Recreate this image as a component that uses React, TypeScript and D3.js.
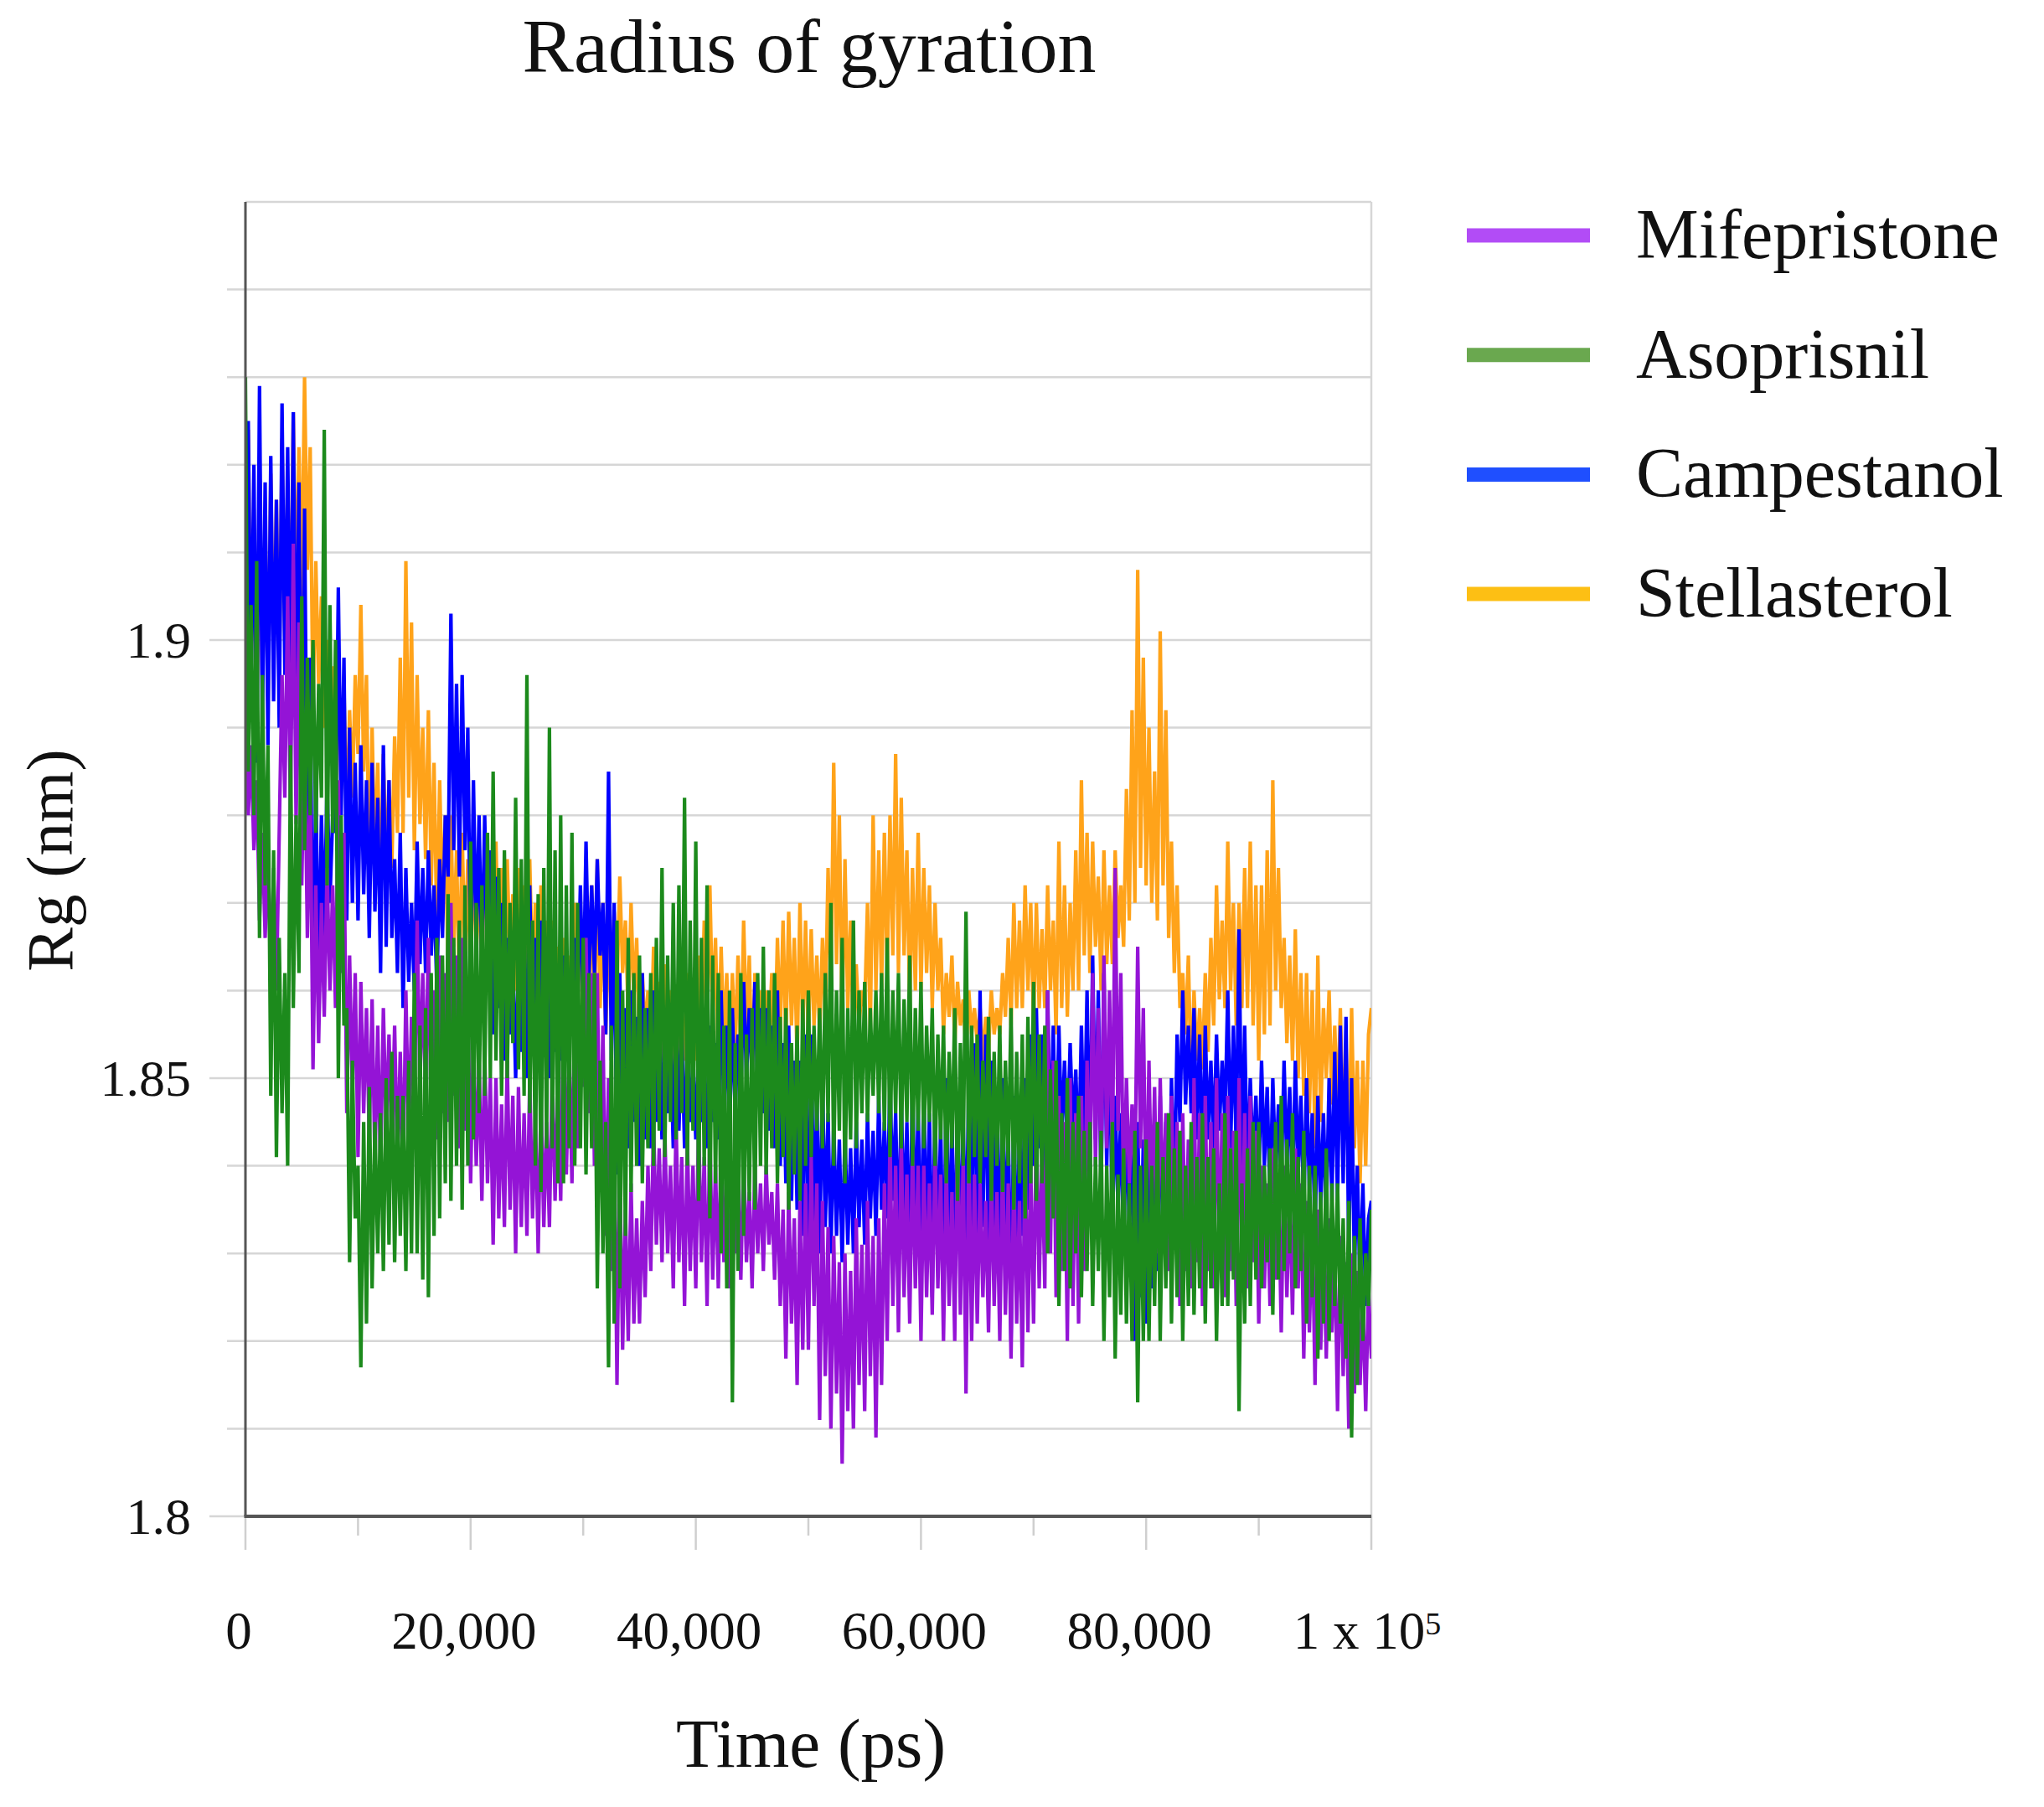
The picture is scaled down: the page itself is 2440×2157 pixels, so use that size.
import React from 'react';
import * as d3 from 'd3';

const W = 2440;
const H = 2157;
const PLOT = { left: 293, right: 1637, top: 241, bottom: 1810 };
const FONT = "'Liberation Serif', 'Times New Roman', serif";

const TITLE = 'Radius of gyration';
const X_TITLE = 'Time (ps)';
const Y_TITLE = 'Rg (nm)';

// sampled every 250 ps, 0 .. 100000 ps
const timePs = d3.range(0, 100001, 250);

const mifepristone = [
  1.892, 1.880, 1.888, 1.876, 1.884, 1.868, 1.878, 1.866, 1.876, 1.861, 1.874, 1.860, 1.878, 1.896, 1.882, 1.905, 1.880, 1.911, 1.879, 1.902,
  1.872, 1.890, 1.866, 1.884, 1.851, 1.872, 1.854, 1.870, 1.857, 1.874, 1.860, 1.872, 1.858, 1.884, 1.862, 1.878, 1.846, 1.864, 1.848, 1.862,
  1.841, 1.861, 1.846, 1.858, 1.843, 1.859, 1.840, 1.856, 1.839, 1.858, 1.844, 1.855, 1.842, 1.856, 1.840, 1.853, 1.838, 1.860, 1.843, 1.857,
  1.846, 1.868, 1.849, 1.862, 1.848, 1.866, 1.845, 1.860, 1.843, 1.864, 1.846, 1.862, 1.845, 1.870, 1.848, 1.864, 1.842, 1.866, 1.844, 1.860,
  1.838, 1.855, 1.840, 1.852, 1.836, 1.853, 1.838, 1.850, 1.831, 1.850, 1.834, 1.847, 1.833, 1.852, 1.835, 1.848, 1.830, 1.849, 1.833, 1.846,
  1.832, 1.850, 1.834, 1.846, 1.830, 1.848, 1.833, 1.845, 1.833, 1.851, 1.836, 1.849, 1.836, 1.857, 1.839, 1.853, 1.838, 1.858, 1.842, 1.856,
  1.849, 1.866, 1.846, 1.862, 1.840, 1.862, 1.837, 1.856, 1.832, 1.850, 1.828, 1.846, 1.815, 1.840, 1.819, 1.835, 1.820, 1.838, 1.822, 1.834,
  1.822, 1.836, 1.825, 1.840, 1.828, 1.845, 1.831, 1.842, 1.829, 1.844, 1.830, 1.840, 1.826, 1.845, 1.829, 1.841, 1.824, 1.843, 1.828, 1.840,
  1.826, 1.845, 1.829, 1.841, 1.824, 1.844, 1.827, 1.840, 1.826, 1.843, 1.829, 1.839, 1.826, 1.840, 1.830, 1.838, 1.827, 1.841, 1.829, 1.837,
  1.826, 1.840, 1.830, 1.838, 1.828, 1.840, 1.831, 1.837, 1.827, 1.838, 1.824, 1.835, 1.818, 1.837, 1.822, 1.834, 1.815, 1.836, 1.819, 1.838,
  1.819, 1.841, 1.824, 1.838, 1.811, 1.836, 1.816, 1.833, 1.810, 1.832, 1.814, 1.829, 1.806, 1.830, 1.812, 1.828, 1.810, 1.834, 1.815, 1.831,
  1.812, 1.836, 1.816, 1.832, 1.809, 1.834, 1.815, 1.838, 1.820, 1.843, 1.824, 1.840, 1.821, 1.843, 1.825, 1.839, 1.822, 1.842, 1.826, 1.840,
  1.820, 1.840, 1.825, 1.838, 1.823, 1.842, 1.826, 1.839, 1.820, 1.840, 1.824, 1.837, 1.820, 1.845, 1.823, 1.841, 1.814, 1.843, 1.820, 1.839,
  1.822, 1.838, 1.825, 1.836, 1.821, 1.840, 1.824, 1.837, 1.820, 1.841, 1.823, 1.838, 1.818, 1.840, 1.822, 1.836, 1.817, 1.843, 1.821, 1.840,
  1.822, 1.845, 1.826, 1.842, 1.826, 1.860, 1.830, 1.852, 1.825, 1.848, 1.828, 1.845, 1.820, 1.850, 1.824, 1.846, 1.822, 1.848, 1.828, 1.852,
  1.837, 1.862, 1.840, 1.858, 1.838, 1.864, 1.842, 1.860, 1.840, 1.874, 1.844, 1.862, 1.835, 1.850, 1.838, 1.847, 1.838, 1.865, 1.842, 1.858,
  1.832, 1.852, 1.835, 1.849, 1.830, 1.850, 1.834, 1.846, 1.828, 1.848, 1.831, 1.845, 1.824, 1.846, 1.828, 1.843, 1.826, 1.850, 1.829, 1.846,
  1.824, 1.848, 1.828, 1.845, 1.826, 1.850, 1.829, 1.846, 1.825, 1.848, 1.828, 1.844, 1.824, 1.850, 1.827, 1.846, 1.826, 1.848, 1.829, 1.844,
  1.822, 1.840, 1.826, 1.838, 1.824, 1.842, 1.827, 1.839, 1.821, 1.840, 1.825, 1.837, 1.823, 1.842, 1.826, 1.838, 1.818, 1.836, 1.821, 1.834,
  1.815, 1.835, 1.819, 1.832, 1.818, 1.834, 1.821, 1.831, 1.812, 1.832, 1.816, 1.829, 1.810, 1.830, 1.814, 1.828, 1.815, 1.825, 1.812, 1.826,
  1.818,
];

const asoprisnil = [
  1.930, 1.885, 1.904, 1.880, 1.909, 1.866, 1.896, 1.872, 1.888, 1.848, 1.876, 1.841, 1.866, 1.846, 1.862, 1.840, 1.888, 1.858, 1.880, 1.862,
  1.905, 1.876, 1.898, 1.880, 1.900, 1.878, 1.895, 1.882, 1.924, 1.872, 1.904, 1.878, 1.900, 1.850, 1.880, 1.856, 1.858, 1.829, 1.852, 1.834,
  1.840, 1.817, 1.845, 1.822, 1.849, 1.826, 1.845, 1.830, 1.846, 1.828, 1.850, 1.831, 1.853, 1.829, 1.848, 1.832, 1.848, 1.828, 1.852, 1.830,
  1.862, 1.830, 1.856, 1.827, 1.858, 1.825, 1.862, 1.832, 1.866, 1.834, 1.864, 1.838, 1.871, 1.836, 1.866, 1.840, 1.868, 1.835, 1.872, 1.840,
  1.877, 1.843, 1.870, 1.846, 1.872, 1.848, 1.878, 1.850, 1.885, 1.852, 1.874, 1.848, 1.876, 1.850, 1.870, 1.854, 1.882, 1.851, 1.875, 1.848,
  1.896, 1.846, 1.868, 1.840, 1.871, 1.837, 1.874, 1.842, 1.890, 1.842, 1.876, 1.838, 1.880, 1.838, 1.872, 1.842, 1.878, 1.840, 1.870, 1.842,
  1.866, 1.839, 1.862, 1.842, 1.862, 1.826, 1.852, 1.830, 1.845, 1.817, 1.856, 1.822, 1.868, 1.826, 1.860, 1.832, 1.866, 1.837, 1.862, 1.840,
  1.864, 1.838, 1.858, 1.842, 1.862, 1.840, 1.866, 1.844, 1.874, 1.841, 1.864, 1.845, 1.870, 1.843, 1.872, 1.846, 1.882, 1.840, 1.868, 1.844,
  1.877, 1.836, 1.866, 1.840, 1.872, 1.834, 1.864, 1.838, 1.862, 1.830, 1.856, 1.826, 1.860, 1.813, 1.854, 1.828, 1.862, 1.832, 1.855, 1.836,
  1.858, 1.835, 1.862, 1.840, 1.865, 1.839, 1.860, 1.842, 1.862, 1.838, 1.857, 1.841, 1.858, 1.835, 1.854, 1.839, 1.856, 1.836, 1.859, 1.840,
  1.860, 1.841, 1.856, 1.844, 1.858, 1.842, 1.862, 1.845, 1.870, 1.840, 1.860, 1.844, 1.866, 1.838, 1.858, 1.843, 1.868, 1.842, 1.860, 1.846,
  1.861, 1.845, 1.858, 1.848, 1.860, 1.846, 1.862, 1.844, 1.866, 1.841, 1.860, 1.846, 1.862, 1.842, 1.859, 1.845, 1.864, 1.840, 1.858, 1.844,
  1.861, 1.842, 1.856, 1.845, 1.858, 1.840, 1.855, 1.843, 1.856, 1.838, 1.853, 1.842, 1.858, 1.836, 1.854, 1.840, 1.869, 1.838, 1.856, 1.841,
  1.855, 1.838, 1.852, 1.841, 1.857, 1.836, 1.853, 1.840, 1.856, 1.837, 1.852, 1.840, 1.858, 1.835, 1.853, 1.838, 1.855, 1.834, 1.857, 1.838,
  1.861, 1.836, 1.855, 1.838, 1.856, 1.830, 1.851, 1.834, 1.852, 1.824, 1.846, 1.828, 1.850, 1.826, 1.845, 1.830, 1.848, 1.825, 1.844, 1.828,
  1.845, 1.824, 1.841, 1.828, 1.844, 1.820, 1.840, 1.825, 1.845, 1.818, 1.839, 1.823, 1.842, 1.822, 1.838, 1.820, 1.844, 1.813, 1.840, 1.820,
  1.843, 1.820, 1.840, 1.824, 1.845, 1.820, 1.841, 1.826, 1.846, 1.822, 1.842, 1.825, 1.844, 1.820, 1.840, 1.824, 1.845, 1.823, 1.841, 1.826,
  1.846, 1.822, 1.841, 1.826, 1.842, 1.820, 1.838, 1.824, 1.846, 1.824, 1.842, 1.827, 1.844, 1.812, 1.838, 1.822, 1.842, 1.824, 1.845, 1.827,
  1.845, 1.826, 1.840, 1.829, 1.842, 1.823, 1.845, 1.827, 1.848, 1.828, 1.843, 1.830, 1.846, 1.826, 1.841, 1.828, 1.844, 1.822, 1.840, 1.825,
  1.840, 1.818, 1.837, 1.822, 1.842, 1.820, 1.838, 1.824, 1.838, 1.822, 1.834, 1.818, 1.836, 1.809, 1.832, 1.815, 1.834, 1.820, 1.830, 1.824,
  1.835,
];

const campestanol = [
  1.905, 1.925, 1.894, 1.920, 1.886, 1.929, 1.890, 1.918, 1.888, 1.921, 1.893, 1.916, 1.890, 1.927, 1.896, 1.922, 1.893, 1.926, 1.890, 1.918,
  1.882, 1.915, 1.876, 1.898, 1.856, 1.884, 1.860, 1.880, 1.866, 1.884, 1.870, 1.880, 1.878, 1.906, 1.880, 1.898, 1.868, 1.890, 1.870, 1.886,
  1.868, 1.888, 1.871, 1.884, 1.866, 1.886, 1.869, 1.882, 1.862, 1.888, 1.865, 1.884, 1.866, 1.875, 1.862, 1.878, 1.858, 1.874, 1.861, 1.870,
  1.860, 1.877, 1.863, 1.874, 1.862, 1.876, 1.864, 1.872, 1.860, 1.875, 1.866, 1.880, 1.873, 1.903, 1.876, 1.895, 1.873, 1.896, 1.876, 1.890,
  1.862, 1.884, 1.865, 1.880, 1.862, 1.880, 1.864, 1.876, 1.855, 1.873, 1.858, 1.870, 1.852, 1.866, 1.855, 1.863, 1.850, 1.864, 1.853, 1.868,
  1.850, 1.872, 1.853, 1.866, 1.851, 1.868, 1.854, 1.864, 1.850, 1.862, 1.853, 1.860, 1.852, 1.864, 1.855, 1.862, 1.855, 1.866, 1.858, 1.872,
  1.858, 1.877, 1.861, 1.872, 1.862, 1.875, 1.864, 1.870, 1.855, 1.885, 1.852, 1.870, 1.839, 1.862, 1.842, 1.858, 1.842, 1.860, 1.845, 1.857,
  1.840, 1.862, 1.843, 1.858, 1.842, 1.860, 1.845, 1.856, 1.843, 1.858, 1.846, 1.855, 1.842, 1.860, 1.844, 1.856, 1.842, 1.854, 1.845, 1.852,
  1.843, 1.854, 1.845, 1.852, 1.842, 1.856, 1.845, 1.854, 1.843, 1.860, 1.846, 1.856, 1.843, 1.858, 1.846, 1.855, 1.848, 1.861, 1.850, 1.858,
  1.850, 1.861, 1.848, 1.858, 1.846, 1.858, 1.844, 1.856, 1.842, 1.860, 1.840, 1.854, 1.838, 1.856, 1.836, 1.852, 1.835, 1.852, 1.832, 1.855,
  1.828, 1.855, 1.832, 1.848, 1.830, 1.850, 1.833, 1.846, 1.830, 1.845, 1.832, 1.843, 1.829, 1.844, 1.831, 1.842, 1.830, 1.845, 1.833, 1.843,
  1.831, 1.846, 1.834, 1.844, 1.832, 1.848, 1.835, 1.845, 1.834, 1.850, 1.836, 1.846, 1.830, 1.848, 1.833, 1.845, 1.828, 1.850, 1.831, 1.847,
  1.826, 1.850, 1.829, 1.846, 1.825, 1.848, 1.828, 1.845, 1.824, 1.850, 1.827, 1.846, 1.826, 1.848, 1.829, 1.845, 1.830, 1.850, 1.833, 1.854,
  1.830, 1.860, 1.833, 1.855, 1.828, 1.852, 1.831, 1.849, 1.825, 1.850, 1.828, 1.846, 1.820, 1.848, 1.826, 1.845, 1.832, 1.850, 1.835, 1.855,
  1.840, 1.858, 1.842, 1.855, 1.838, 1.860, 1.841, 1.856, 1.840, 1.856, 1.843, 1.852, 1.842, 1.854, 1.844, 1.851, 1.840, 1.856, 1.842, 1.860,
  1.840, 1.864, 1.843, 1.860, 1.837, 1.862, 1.840, 1.855, 1.832, 1.848, 1.835, 1.846, 1.830, 1.846, 1.833, 1.844, 1.820, 1.845, 1.825, 1.843,
  1.822, 1.846, 1.826, 1.844, 1.828, 1.848, 1.831, 1.845, 1.830, 1.850, 1.836, 1.855, 1.845, 1.860, 1.847, 1.856, 1.846, 1.858, 1.843, 1.855,
  1.840, 1.856, 1.843, 1.852, 1.842, 1.855, 1.844, 1.852, 1.845, 1.860, 1.842, 1.856, 1.842, 1.867, 1.840, 1.856, 1.838, 1.850, 1.840, 1.848,
  1.838, 1.852, 1.840, 1.849, 1.836, 1.850, 1.839, 1.847, 1.838, 1.852, 1.840, 1.849, 1.836, 1.852, 1.839, 1.848, 1.835, 1.850, 1.837, 1.846,
  1.832, 1.848, 1.835, 1.846, 1.834, 1.850, 1.836, 1.853, 1.836, 1.856, 1.838, 1.857, 1.830, 1.850, 1.828, 1.840, 1.826, 1.838, 1.824, 1.834,
  1.836,
];

const stellasterol = [
  1.890, 1.924, 1.896, 1.915, 1.888, 1.920, 1.894, 1.914, 1.893, 1.919, 1.897, 1.916, 1.895, 1.923, 1.900, 1.918, 1.900, 1.926, 1.903, 1.922,
  1.905, 1.930, 1.908, 1.922, 1.892, 1.909, 1.895, 1.905, 1.890, 1.900, 1.888, 1.897, 1.880, 1.899, 1.883, 1.895, 1.878, 1.892, 1.882, 1.896,
  1.887, 1.904, 1.885, 1.896, 1.872, 1.890, 1.875, 1.886, 1.870, 1.887, 1.873, 1.884, 1.874, 1.889, 1.878, 1.898, 1.878, 1.909, 1.882, 1.902,
  1.876, 1.896, 1.879, 1.890, 1.875, 1.892, 1.872, 1.886, 1.867, 1.884, 1.870, 1.880, 1.862, 1.880, 1.865, 1.876, 1.860, 1.878, 1.863, 1.875,
  1.861, 1.877, 1.864, 1.873, 1.862, 1.876, 1.865, 1.872, 1.865, 1.877, 1.862, 1.874, 1.860, 1.875, 1.863, 1.871, 1.860, 1.874, 1.862, 1.872,
  1.858, 1.875, 1.861, 1.870, 1.857, 1.872, 1.860, 1.868, 1.855, 1.868, 1.858, 1.865, 1.856, 1.866, 1.859, 1.864, 1.858, 1.870, 1.860, 1.866,
  1.856, 1.868, 1.859, 1.872, 1.856, 1.875, 1.858, 1.870, 1.855, 1.866, 1.858, 1.869, 1.860, 1.873, 1.862, 1.868, 1.857, 1.870, 1.859, 1.866,
  1.853, 1.862, 1.855, 1.860, 1.852, 1.865, 1.854, 1.861, 1.852, 1.863, 1.854, 1.860, 1.850, 1.860, 1.852, 1.858, 1.852, 1.862, 1.854, 1.860,
  1.852, 1.864, 1.855, 1.868, 1.855, 1.872, 1.857, 1.866, 1.852, 1.865, 1.854, 1.862, 1.850, 1.862, 1.853, 1.864, 1.852, 1.868, 1.855, 1.864,
  1.850, 1.862, 1.853, 1.860, 1.852, 1.860, 1.854, 1.862, 1.852, 1.866, 1.855, 1.868, 1.854, 1.869, 1.856, 1.866, 1.852, 1.870, 1.855, 1.868,
  1.854, 1.867, 1.856, 1.864, 1.855, 1.866, 1.857, 1.874, 1.860, 1.886, 1.863, 1.880, 1.856, 1.875, 1.858, 1.868, 1.854, 1.863, 1.856, 1.860,
  1.858, 1.870, 1.855, 1.880, 1.860, 1.876, 1.860, 1.878, 1.862, 1.880, 1.864, 1.887, 1.862, 1.882, 1.864, 1.876, 1.858, 1.874, 1.860, 1.878,
  1.860, 1.874, 1.862, 1.872, 1.858, 1.870, 1.860, 1.866, 1.855, 1.862, 1.857, 1.864, 1.854, 1.861, 1.856, 1.859, 1.853, 1.860, 1.855, 1.858,
  1.854, 1.858, 1.852, 1.857, 1.853, 1.860, 1.855, 1.858, 1.855, 1.862, 1.857, 1.866, 1.856, 1.870, 1.858, 1.868, 1.858, 1.872, 1.860, 1.870,
  1.856, 1.870, 1.858, 1.867, 1.858, 1.872, 1.860, 1.868, 1.855, 1.877, 1.858, 1.872, 1.857, 1.870, 1.860, 1.876, 1.860, 1.884, 1.864, 1.878,
  1.862, 1.877, 1.865, 1.873, 1.860, 1.876, 1.863, 1.872, 1.863, 1.876, 1.866, 1.872, 1.865, 1.883, 1.868, 1.892, 1.870, 1.908, 1.874, 1.898,
  1.872, 1.890, 1.870, 1.885, 1.868, 1.901, 1.872, 1.892, 1.866, 1.877, 1.862, 1.872, 1.858, 1.862, 1.855, 1.864, 1.849, 1.860, 1.852, 1.858,
  1.851, 1.862, 1.853, 1.866, 1.856, 1.872, 1.859, 1.868, 1.858, 1.877, 1.860, 1.870, 1.856, 1.870, 1.858, 1.874, 1.858, 1.877, 1.856, 1.872,
  1.852, 1.872, 1.855, 1.876, 1.856, 1.884, 1.860, 1.874, 1.858, 1.866, 1.854, 1.864, 1.852, 1.867, 1.850, 1.862, 1.848, 1.862, 1.846, 1.860,
  1.842, 1.864, 1.845, 1.858, 1.850, 1.860, 1.847, 1.856, 1.846, 1.858, 1.843, 1.854, 1.840, 1.858, 1.842, 1.852, 1.838, 1.852, 1.840, 1.855,
  1.858,
];

const legendNames = ['Mifepristone', 'Asoprisnil', 'Campestanol', 'Stellasterol'];
const legendColors = ['#b24cf6', '#6aa84f', '#1f4fff', '#fdbf14'];
const lineColors = ['#9414d6', '#1c8a1c', '#0000ff', '#ffa31a'];
const seriesValues = [mifepristone, asoprisnil, campestanol, stellasterol];
const drawOrder = [3, 2, 0, 1];

const yGridTicks = d3.range(180, 196).map((v) => v / 100);
const yLabelTicks = [1.8, 1.85, 1.9];
const xTickValues = d3.range(0, 100001, 10000);
const xLabelTicks = [0, 20000, 40000, 60000, 80000, 100000];

export default function App() {
  const x = d3.scaleLinear().domain([0, 100000]).range([PLOT.left, PLOT.right]);
  const y = d3.scaleLinear().domain([1.8, 1.95]).range([PLOT.bottom, PLOT.top]);
  const line = d3
    .line<number>()
    .x((_, i) => x(timePs[i]))
    .y((d) => y(d));
  const fmt = d3.format(',');
  const isMajorY = (v: number) => yLabelTicks.some((t) => Math.abs(t - v) < 1e-9);

  return (
    <svg
      width={W}
      height={H}
      viewBox={`0 0 ${W} ${H}`}
      style={{ position: 'absolute', left: 0, top: 0, background: '#fff' }}
      fontFamily={FONT}
    >
      <rect x={0} y={0} width={W} height={H} fill="#fff" />
      <defs>
        <clipPath id="plotclip">
          <rect x={PLOT.left} y={PLOT.top - 2} width={PLOT.right - PLOT.left} height={PLOT.bottom - PLOT.top + 2} />
        </clipPath>
      </defs>
      {/* grid lines */}
      {yGridTicks.map((v) => {
        const yy = y(v);
        const top = Math.abs(v - 1.95) < 1e-9;
        const x0 = top ? PLOT.left : isMajorY(v) ? PLOT.left - 43 : PLOT.left - 22;
        return (
          <line key={v} x1={x0} x2={PLOT.right} y1={yy} y2={yy} stroke="#d6d6d6" strokeWidth={2.5} />
        );
      })}
      <line x1={PLOT.right} x2={PLOT.right} y1={PLOT.top} y2={PLOT.bottom} stroke="#d6d6d6" strokeWidth={2.5} />
      {/* x ticks */}
      {xTickValues.map((v) => {
        const xx = x(v);
        const major = xLabelTicks.includes(v);
        return (
          <line key={v} x1={xx} x2={xx} y1={PLOT.bottom} y2={PLOT.bottom + (major ? 40 : 23)} stroke="#cfcfcf" strokeWidth={2.5} />
        );
      })}
      {/* data */}
      <g clipPath="url(#plotclip)">
        {drawOrder.map((si) => (
          <path key={si} d={line(seriesValues[si]) || ''} fill="none" stroke={lineColors[si]} strokeWidth={4.2} strokeLinejoin="miter" />
        ))}
      </g>
      {/* axes */}
      <line x1={PLOT.left} x2={PLOT.left} y1={PLOT.top} y2={PLOT.bottom} stroke="#555" strokeWidth={3} />
      <line x1={PLOT.left - 1.5} x2={PLOT.right} y1={PLOT.bottom} y2={PLOT.bottom} stroke="#555" strokeWidth={4} />
      {/* y tick labels */}
      {yLabelTicks.map((v) => (
        <text key={v} x={228} y={y(v) + 21} textAnchor="end" fontSize={62} fill="#111">
          {String(v)}
        </text>
      ))}
      {/* x tick labels */}
      {xLabelTicks.map((v) =>
        v === 100000 ? (
          <text key={v} x={x(v) - 5} y={1968} textAnchor="middle" fontSize={63} fill="#111">
            1 x 10
            <tspan fontSize={38} dy={-17}>5</tspan>
          </text>
        ) : (
          <text key={v} x={x(v) - 8} y={1968} textAnchor="middle" fontSize={63} fill="#111">
            {fmt(v)}
          </text>
        )
      )}
      {/* titles */}
      <text x={966} y={86} textAnchor="middle" fontSize={92} fill="#111">
        {TITLE}
      </text>
      <text x={968} y={2109} textAnchor="middle" fontSize={83} fill="#111">
        {X_TITLE}
      </text>
      <text transform={`translate(86, 1027) rotate(-90)`} textAnchor="middle" fontSize={79} fill="#111">
        {Y_TITLE}
      </text>
      {/* legend */}
      {legendNames.map((name, i) => {
        const ly = 281 + i * 142.7;
        return (
          <g key={name}>
            <line x1={1751} x2={1898} y1={ly} y2={ly} stroke={legendColors[i]} strokeWidth={17} />
            <text x={1953} y={ly + 27} fontSize={84} fill="#111">
              {name}
            </text>
          </g>
        );
      })}
    </svg>
  );
}
